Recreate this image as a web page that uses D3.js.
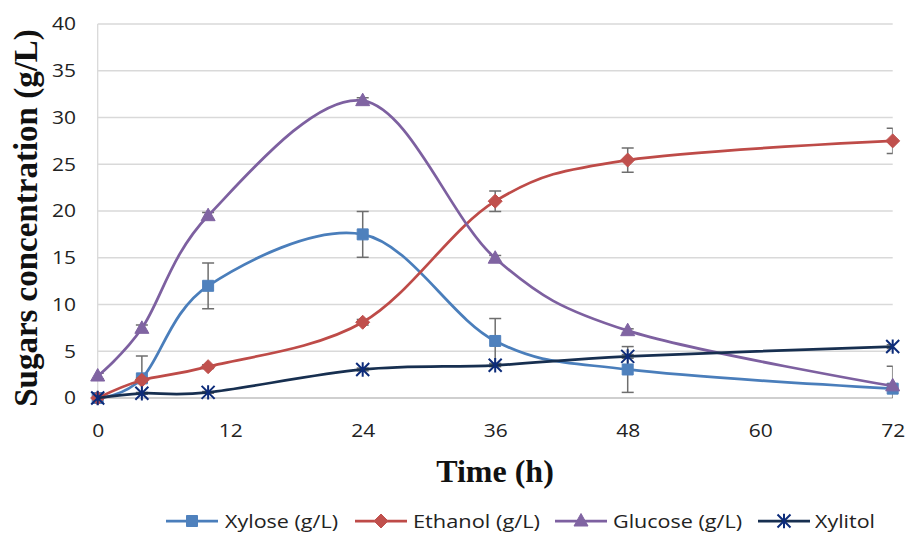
<!DOCTYPE html>
<html><head><meta charset="utf-8">
<script src="https://cdn.jsdelivr.net/npm/d3@7"></script>
<style>body{margin:0;background:#fff}svg{display:block}</style>
</head><body>
<svg id="c" width="907" height="533"></svg>
<script>
const time = [0, 4, 10, 24, 36, 48, 72];
const xylose = [0, 2.1, 12.0, 17.5, 6.1, 3.05, 1.0];
const xyloseErr = [0, 2.4, 2.45, 2.45, 2.4, 2.45, 2.4];
const ethanol = [0, 1.9, 3.35, 8.1, 21.05, 25.45, 27.5];
const ethanolErr = [0, 0.2, 0.2, 0.3, 1.1, 1.3, 1.35];
const glucose = [2.35, 7.45, 19.5, 31.8, 14.95, 7.2, 1.3];
const glucoseErr = [0.3, 0.35, 0.35, 0.3, 0.3, 0.2, 0.2];
const xylitol = [0, 0.5, 0.6, 3.05, 3.5, 4.45, 5.5];
const xylitolErr = [0, 0.1, 0.1, 0.15, 0.15, 0.2, 0.2];
const xTicks = [0, 12, 24, 36, 48, 60, 72];
const yTicks = [0, 5, 10, 15, 20, 25, 30, 35, 40];
const seriesNames = ["Xylose (g/L)", "Ethanol (g/L)", "Glucose (g/L)", "Xylitol"];

const series = [
  {name: seriesNames[0], v: xylose, e: xyloseErr, line: "#4A7EBB", mark: "#4F81BD", sym: "square"},
  {name: seriesNames[1], v: ethanol, e: ethanolErr, line: "#BE4B48", mark: "#C0504D", sym: "diamond"},
  {name: seriesNames[2], v: glucose, e: glucoseErr, line: "#7D60A0", mark: "#8064A2", sym: "triangle"},
  {name: seriesNames[3], v: xylitol, e: xylitolErr, line: "#172F50", mark: "#0D2C7A", sym: "star"}
];

const svg = d3.select("#c");
const L = 97.7, R = 892.7, T = 24, B = 398;
const x = d3.scaleLinear().domain([0, 72]).range([L, R]);
const y = d3.scaleLinear().domain([0, 40]).range([B, T]);

// grid
svg.append("g").selectAll("line").data(yTicks.filter(d => d > 0)).join("line")
  .attr("x1", L).attr("x2", R).attr("y1", d => y(d)).attr("y2", d => y(d))
  .attr("stroke", "#D9D9D9").attr("stroke-width", 1.3);
// axes lines
svg.append("line").attr("x1", L).attr("x2", L).attr("y1", T).attr("y2", B)
  .attr("stroke", "#D9D9D9").attr("stroke-width", 1.3);
svg.append("line").attr("x1", L).attr("x2", R).attr("y1", B).attr("y2", B)
  .attr("stroke", "#BFBFBF").attr("stroke-width", 1.5);

// tick labels
const tickFont = "'Open Sans', sans-serif";
svg.append("g").selectAll("text").data(yTicks).join("text")
  .attr("x", 76).attr("y", d => y(d) + 6.3).attr("text-anchor", "end")
  .attr("font-family", tickFont).attr("font-size", 18).attr("fill", "#222")
  .attr("textLength", d => String(d).length * 12).attr("lengthAdjust", "spacingAndGlyphs")
  .text(d => d);
svg.append("g").selectAll("text").data(xTicks).join("text")
  .attr("x", d => x(d) + 0.5).attr("y", 437).attr("text-anchor", "middle")
  .attr("font-family", tickFont).attr("font-size", 18).attr("fill", "#222")
  .attr("textLength", d => String(d).length * 12).attr("lengthAdjust", "spacingAndGlyphs")
  .text(d => d);

// titles
svg.append("text").attr("x", 495).attr("y", 481.5).attr("text-anchor", "middle")
  .attr("font-family", "'Liberation Serif', 'Times New Roman', serif").attr("font-weight", "bold")
  .attr("font-size", 32).attr("fill", "#111").text("Time (h)");
svg.append("text").attr("transform", "translate(37,218) rotate(-90)").attr("text-anchor", "middle")
  .attr("font-family", "'Liberation Serif', 'Times New Roman', serif").attr("font-weight", "bold")
  .attr("font-size", 33).attr("fill", "#111").text("Sugars concentration (g/L)");

// clip for error bars
svg.append("clipPath").attr("id", "pc").append("rect")
  .attr("x", L).attr("y", T - 2).attr("width", R - L).attr("height", B - T + 2);

const curve = d3.curveCardinal.tension(0);
const lineGen = d3.line().curve(curve).x(d => x(d[0])).y(d => y(d[1]));

function drawMarker(g, sym, cx, cy, s) {
  if (sym === "square") {
    const w = 11 * s;
    g.append("rect").attr("x", cx - w / 2).attr("y", cy - w / 2).attr("width", w).attr("height", w)
      .attr("fill", s.fill || null);
  }
}

function symbolPath(sym, scale) {
  const k = scale || 1;
  if (sym === "square") return d3.symbol().type(d3.symbolSquare).size(121 * k * k)();
  if (sym === "diamond") {
    const r = 7 * k;
    return `M0,${-r}L${r},0L0,${r}L${-r},0Z`;
  }
  if (sym === "triangle") {
    const w = 7 * k, h = 12.5 * k;
    return `M0,${-h * 0.6}L${w},${h * 0.4}L${-w},${h * 0.4}Z`;
  }
  if (sym === "star") {
    const r = 6.5 * k;
    return `M${-r},${-r}L${r},${r}M${-r},${r}L${r},${-r}M0,${-r * 1.1}L0,${r * 1.1}`;
  }
}

function markerAttrs(sel, s) {
  if (s.sym === "star") {
    sel.attr("fill", "none").attr("stroke", s.mark).attr("stroke-width", 2);
  } else {
    sel.attr("fill", s.mark).attr("stroke", s.mark).attr("stroke-width", 1);
  }
  return sel;
}

series.forEach(s => {
  const g = svg.append("g");
  const pts = time.map((t, i) => [t, s.v[i], s.e[i]]);
  // error bars
  const eg = g.append("g").attr("clip-path", "url(#pc)").attr("stroke", "#6E6E6E").attr("stroke-width", 1.5);
  pts.filter(p => p[2] > 0).forEach(p => {
    const cx = x(p[0]), y1 = y(p[1] + p[2]), y2 = y(p[1] - p[2]);
    eg.append("line").attr("x1", cx).attr("x2", cx).attr("y1", y1).attr("y2", y2);
    eg.append("line").attr("x1", cx - 6).attr("x2", cx + 6).attr("y1", y1).attr("y2", y1);
    eg.append("line").attr("x1", cx - 6).attr("x2", cx + 6).attr("y1", y2).attr("y2", y2);
  });
  g.append("path").datum(pts).attr("d", lineGen).attr("fill", "none")
    .attr("stroke", s.line).attr("stroke-width", 2.75).attr("stroke-linecap", "round");
  markerAttrs(g.selectAll("path.m").data(pts).join("path").attr("class", "m")
    .attr("transform", p => `translate(${x(p[0])},${y(p[1])})`)
    .attr("d", symbolPath(s.sym)), s);
});

// legend
const legendPos = [
  {lx: 166, tx: 225, tw: 113},
  {lx: 355, tx: 413, tw: 127},
  {lx: 555, tx: 613, tw: 129},
  {lx: 758, tx: 815, tw: 60}
];
series.forEach((s, i) => {
  const p = legendPos[i];
  const g = svg.append("g");
  g.append("line").attr("x1", p.lx).attr("x2", p.lx + 52).attr("y1", 521).attr("y2", 521)
    .attr("stroke", s.line).attr("stroke-width", 2.75);
  markerAttrs(g.append("path").attr("transform", `translate(${p.lx + 26},521)`)
    .attr("d", symbolPath(s.sym)), s);
  g.append("text").attr("x", p.tx).attr("y", 528).attr("font-family", tickFont)
    .attr("font-size", 18).attr("fill", "#222")
    .attr("textLength", p.tw).attr("lengthAdjust", "spacingAndGlyphs").text(s.name);
});
</script>
</body></html>
